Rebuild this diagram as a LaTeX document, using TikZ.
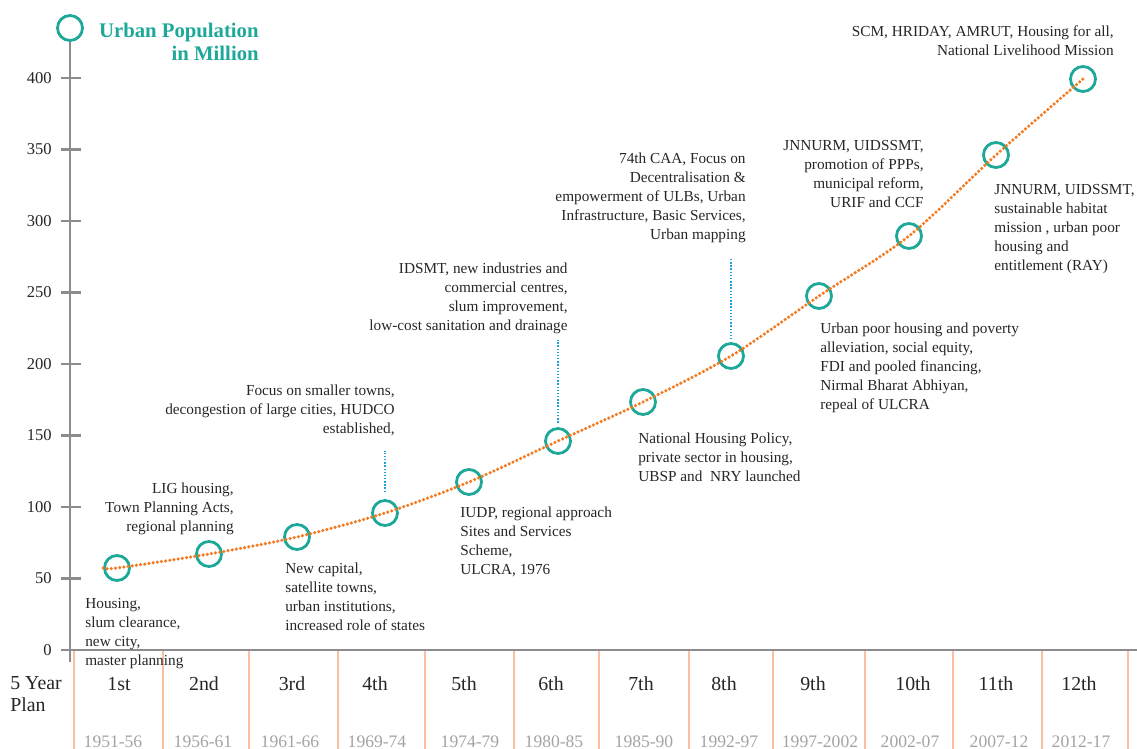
\documentclass[tikz,border=0pt]{standalone}
\usepackage{tikz}
\usepackage{fontspec}
\setmainfont{Liberation Serif}
\definecolor{ringteal}{HTML}{1DA89A}
\definecolor{trendorange}{HTML}{F47A1F}
\definecolor{leadblue}{HTML}{1BA1E2}
\definecolor{sepline}{HTML}{F9BF9F}
\definecolor{axisgray}{HTML}{8C8C8C}
\definecolor{yeargray}{HTML}{A3A3A3}
\definecolor{txtdark}{HTML}{262626}
\tikzset{
	ring/.style={circle, draw=ringteal, line width=1.6pt, minimum size=0.5cm, inner sep=0pt},
	axisline/.style={axisgray, line width=1.5pt},
	trend/.style={trendorange, line width=2pt, line cap=round, dash pattern=on 0pt off 2.4pt},
	lead/.style={leadblue, line width=0.8pt, dash pattern=on 0.8pt off 1pt},
	colsep/.style={sepline, line width=0.9pt},
	note/.style={inner sep=0pt, text=txtdark, font=\fontsize{8.7}{10.8}\selectfont},
	ticklabel/.style={inner sep=0pt, text=txtdark, font=\fontsize{9.4}{11}\selectfont},
	planlabel/.style={inner sep=0pt, text=txtdark, font=\fontsize{11.3}{12.5}\selectfont},
	yearlabel/.style={inner sep=0pt, text=yeargray, font=\fontsize{10}{11}\selectfont}
}

\begin{document}
\begin{tikzpicture}[x=0.02cm,y=-0.02cm]
	\useasboundingbox (0,0) rectangle (1137,749);
	\foreach \x in {74,163,249,338,425,514,599,689,773,865,953,1042,1128}
	\draw[colsep] (\x,650) -- (\x,749);
	\node[ring] (legend) at (70,28) {};
	\node[anchor=north east, inner sep=0pt, text=ringteal, align=right, font=\fontsize{11.8}{13}\selectfont\bfseries] (title) at (259,23) {Urban Population\\in Million};
	\draw[axisline] (legend.south) -- (70,662);
	\draw[axisline] (62,650) -- (1137,650);
	\foreach \v in {0,50,...,400}{
		\draw[axisline] (61,{650-1.43*\v}) -- (81,{650-1.43*\v});
		\node[ticklabel, anchor=east] (tick\v) at (52,{650-1.43*\v}) {\v};
	}
	\node[planlabel, anchor=north west, align=left] (planhead) at (10,676) {5 Year\\Plan};
	\foreach \n/\x/\yx/\yr in {1st/119/113/1951-56, 2nd/204/203/1956-61, 3rd/292/290/1961-66, 4th/375/377/1969-74, 5th/464/470/1974-79, 6th/551/554/1980-85, 7th/641/644/1985-90, 8th/724/729/1992-97, 9th/813/820/1997-2002, 10th/913/910/2002-07, 11th/996/999/2007-12, 12th/1079/1081/2012-17}{
		\node[planlabel] (plan\n) at (\x,684) {\n};
		\node[yearlabel] (year\n) at (\yx,742) {\yr};
	}
	\foreach \i/\x/\y in {1/117/568, 2/209/554, 3/297/537, 4/385/513, 5/469/482, 6/558/441, 7/643/402, 8/731/356, 9/819/296, 10/909/236, 11/996/155, 12/1083/79}
	\node[ring] (p\i) at (\x,\y) {};
	\draw[trend] plot[smooth, tension=0.5] coordinates {(p1.west) (p1.center) (p2.center) (p3.center) (p4.center) (p5.center) (p6.center) (p7.center) (p8.center) (p9.center) (p10.center) (p11.center) (p12.center)};
	\node[note, anchor=north west, align=left] (tA) at (85,598) {Housing,\\slum clearance,\\new city,\\master planning};
	\node[note, anchor=north east, align=right] (tB) at (234,483) {LIG housing,\\Town Planning Acts,\\regional planning};
	\node[note, anchor=north west, align=left] (tC) at (285,563) {New capital,\\satellite towns,\\urban institutions,\\increased role of states};
	\node[note, anchor=north east, align=right] (tD) at (395,385) {Focus on smaller towns,\\decongestion of large cities, HUDCO\\established,};
	\node[note, anchor=north east, align=right] (tE) at (568,263) {IDSMT, new industries and\\commercial centres,\\slum improvement,\\low-cost sanitation and drainage};
	\node[note, anchor=north west, align=left] (tF) at (460,507) {IUDP, regional approach\\Sites and Services\\Scheme,\\ULCRA, 1976};
	\node[note, anchor=north west, align=left] (tG) at (638,433) {National Housing Policy,\\private sector in housing,\\UBSP and\ \ NRY launched};
	\node[note, anchor=north east, align=right] (tH) at (746,153) {74th CAA, Focus on\\Decentralisation \&\\empowerment of ULBs, Urban\\Infrastructure, Basic Services,\\Urban mapping};
	\node[note, anchor=north east, align=right] (tI) at (924,140) {JNNURM, UIDSSMT,\\promotion of PPPs,\\municipal reform,\\URIF and CCF};
	\node[note, anchor=north west, align=left] (tJ) at (820,323) {Urban poor housing and poverty\\alleviation, social equity,\\FDI and pooled financing,\\Nirmal Bharat Abhiyan,\\repeal of ULCRA};
	\node[note, anchor=north west, align=left] (tK) at (994,184) {JNNURM, UIDSSMT,\\sustainable habitat\\mission , urban poor\\housing and\\entitlement (RAY)};
	\node[note, anchor=north east, align=right] (tL) at (1114,25) {SCM, HRIDAY, AMRUT, Housing for all,\\National Livelihood Mission};
	\draw[lead, shorten <=4pt, shorten >=8pt] (p4.north) -- (p4.north |- tD.south);
	\draw[lead, shorten <=2.5pt, shorten >=3pt] (p6.north) -- (p6.north |- tE.south);
	\draw[lead, shorten <=1.5pt, shorten >=8pt] (p8.north) -- (p8.north |- tH.south);
\end{tikzpicture}
\end{document}
